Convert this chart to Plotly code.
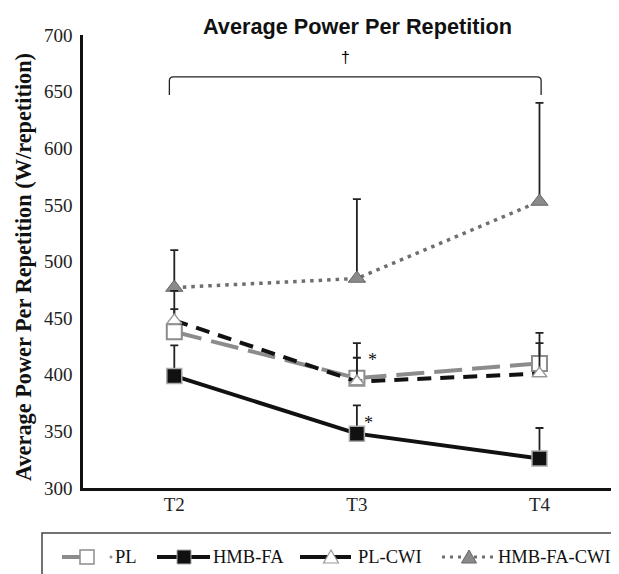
import plotly.graph_objects as go

# ---- data ----
categories = ["T2", "T3", "T4"]
pl_mean = [438, 397, 410]
pl_upper = [458, 415, 437]
hmb_mean = [399, 348, 326]
hmb_upper = [426, 373, 353]
plcwi_mean = [448, 394, 401]
plcwi_upper = [474, 428, 428]
hmbcwi_mean = [477, 485, 553]
hmbcwi_upper = [510, 555, 640]
y_ticks = [300, 350, 400, 450, 500, 550, 600, 650, 700]

SERIF = "Liberation Serif"
SANS = "Liberation Sans"

OFF = 8  # page body margin
W, H = 619 - OFF, 574 - OFF
# target positions in page pixels
L, R_EDGE, T, B = 83, 618, 35, 488
PW, PH = R_EDGE - L, B - T


def pxx(x):
    return (x - L) / PW


def pxy(y):
    return (B - y) / PH


xi = list(range(len(categories)))

fig = go.Figure()


def add_series(mean, upper, name, line, marker):
    fig.add_trace(go.Scatter(
        x=xi, y=mean, name=name, mode="lines+markers",
        line=line, marker=marker,
        error_y=dict(type="data", symmetric=False,
                     array=[u - m for u, m in zip(upper, mean)],
                     arrayminus=[0] * len(mean),
                     color="#222222", thickness=1.8, width=4),
        showlegend=False,
    ))


add_series(hmbcwi_mean, hmbcwi_upper, "HMB-FA-CWI",
           dict(color="#6e6e6e", width=3.5, dash="3.5px,5px"),
           dict(symbol="triangle-up", size=15, color="#8a8a8a",
                line=dict(color="#666666", width=1)))
add_series(hmb_mean, hmb_upper, "HMB-FA",
           dict(color="#111111", width=4),
           dict(symbol="square", size=15, color="#111111",
                line=dict(color="#aaaaaa", width=1.5)))
add_series(pl_mean, pl_upper, "PL",
           dict(color="#8c8c8c", width=4, dash="28px,10px"),
           dict(symbol="square", size=15, color="white",
                line=dict(color="#8c8c8c", width=2)))
add_series(plcwi_mean, plcwi_upper, "PL-CWI",
           dict(color="#111111", width=4, dash="14px,9px"),
           dict(symbol="triangle-up", size=13, color="white",
                line=dict(color="#999999", width=1.5)))

shapes = []
annotations = []

# bracket (significance) in data coordinates
bx0, bx1, by_top, by_bot = -0.027, 2.009, 663, 647
rx, ry = 0.022, 3.5
shapes.append(dict(
    type="path", xref="x", yref="y",
    path=(f"M {bx0},{by_bot} L {bx0},{by_top - ry} Q {bx0},{by_top} {bx0 + rx},{by_top} "
          f"L {bx1 - rx},{by_top} Q {bx1},{by_top} {bx1},{by_top - ry} L {bx1},{by_bot}"),
    line=dict(color="#222222", width=1.3)))
annotations.append(dict(x=0.94, y=680, xref="x", yref="y", text="†",
                        showarrow=False, font=dict(family=SANS, size=16, color="#000000")))

# asterisks
annotations.append(dict(x=1, y=413, xref="x", yref="y", xshift=16, text="*",
                        showarrow=False, font=dict(family=SERIF, size=18, color="#111")))
annotations.append(dict(x=1, y=357, xref="x", yref="y", xshift=12, text="*",
                        showarrow=False, font=dict(family=SERIF, size=18, color="#111")))

# title
annotations.append(dict(x=pxx(357), y=pxy(27), xref="paper", yref="paper",
                        text="<b>Average Power Per Repetition</b>", showarrow=False,
                        xanchor="center", yanchor="middle",
                        font=dict(family=SANS, size=21.7, color="#111")))
# y-axis title
annotations.append(dict(x=pxx(23), y=pxy(267), xref="paper", yref="paper",
                        text="<b>Average Power Per Repetition (W/repetition)</b>",
                        showarrow=False, textangle=-90, xanchor="center", yanchor="middle",
                        font=dict(family=SERIF, size=22.3, color="#111")))

# ---- custom legend ----
LY = 557
shapes.append(dict(type="rect", xref="paper", yref="paper",
                   x0=pxx(42), x1=pxx(640), y0=pxy(533), y1=pxy(600),
                   line=dict(color="#444444", width=1.5)))


def sq(cx, fill, outline, lw):
    shapes.append(dict(type="rect", xref="paper", yref="paper",
                       x0=pxx(cx - 7), x1=pxx(cx + 7), y0=pxy(LY - 7), y1=pxy(LY + 7),
                       fillcolor=fill, line=dict(color=outline, width=lw)))


def tri(cx, fill, outline, lw):
    p = (f"M {pxx(cx)},{pxy(LY - 7)} L {pxx(cx - 7.5)},{pxy(LY + 6)} "
         f"L {pxx(cx + 7.5)},{pxy(LY + 6)} Z")
    shapes.append(dict(type="path", xref="paper", yref="paper", path=p,
                       fillcolor=fill, line=dict(color=outline, width=lw)))


def seg(x0, x1, color, width, dash="solid"):
    shapes.append(dict(type="line", xref="paper", yref="paper",
                       x0=pxx(x0), x1=pxx(x1), y0=pxy(LY), y1=pxy(LY),
                       line=dict(color=color, width=width, dash=dash)))


def label(x, txt):
    annotations.append(dict(x=pxx(x), y=pxy(LY), xref="paper", yref="paper",
                            text=txt, showarrow=False, xanchor="left", yanchor="middle",
                            borderpad=0,
                            font=dict(family=SERIF, size=18.5, color="#111")))


# PL
seg(62, 81, "#8c8c8c", 4)
sq(87, "white", "#8c8c8c", 1.5)
shapes.append(dict(type="circle", xref="paper", yref="paper",
                   x0=pxx(109.5), x1=pxx(112.5), y0=pxy(LY - 1.5), y1=pxy(LY + 1.5),
                   fillcolor="#8c8c8c", line=dict(width=0)))
label(114, "PL")
# HMB-FA
seg(157, 210, "#111111", 4)
sq(184, "#111111", "#aaaaaa", 1)
label(212, "HMB-FA")
# PL-CWI
seg(300, 351, "#111111", 4)
tri(331, "white", "#999999", 1.2)
label(357, "PL-CWI")
# HMB-FA-CWI
seg(442, 493, "#6e6e6e", 3, "3px,5px")
tri(469, "#8a8a8a", "#666666", 1)
label(497, "HMB-FA-CWI")

fig.update_layout(
    width=W, height=H,
    margin=dict(l=L - OFF, r=(W + OFF) - R_EDGE, t=T - OFF, b=(H + OFF) - B, pad=0),
    paper_bgcolor="white", plot_bgcolor="white",
    showlegend=False,
    xaxis=dict(range=[-0.5, 2.43], tickmode="array", tickvals=xi, ticktext=categories,
               showgrid=False, zeroline=False, showline=True, linecolor="#111",
               linewidth=2.5, ticks="", ticklabelstandoff=-3,
               tickfont=dict(family=SERIF, size=19, color="#222")),
    yaxis=dict(range=[300, 700], tickmode="array", tickvals=y_ticks,
               ticktext=[str(v) for v in y_ticks],
               showgrid=False, zeroline=False, showline=True, linecolor="#111",
               linewidth=2.5, ticks="", ticklabelstandoff=4,
               tickfont=dict(family=SERIF, size=19, color="#222")),
    shapes=shapes, annotations=annotations,
)

fig.write_html("out.html")
